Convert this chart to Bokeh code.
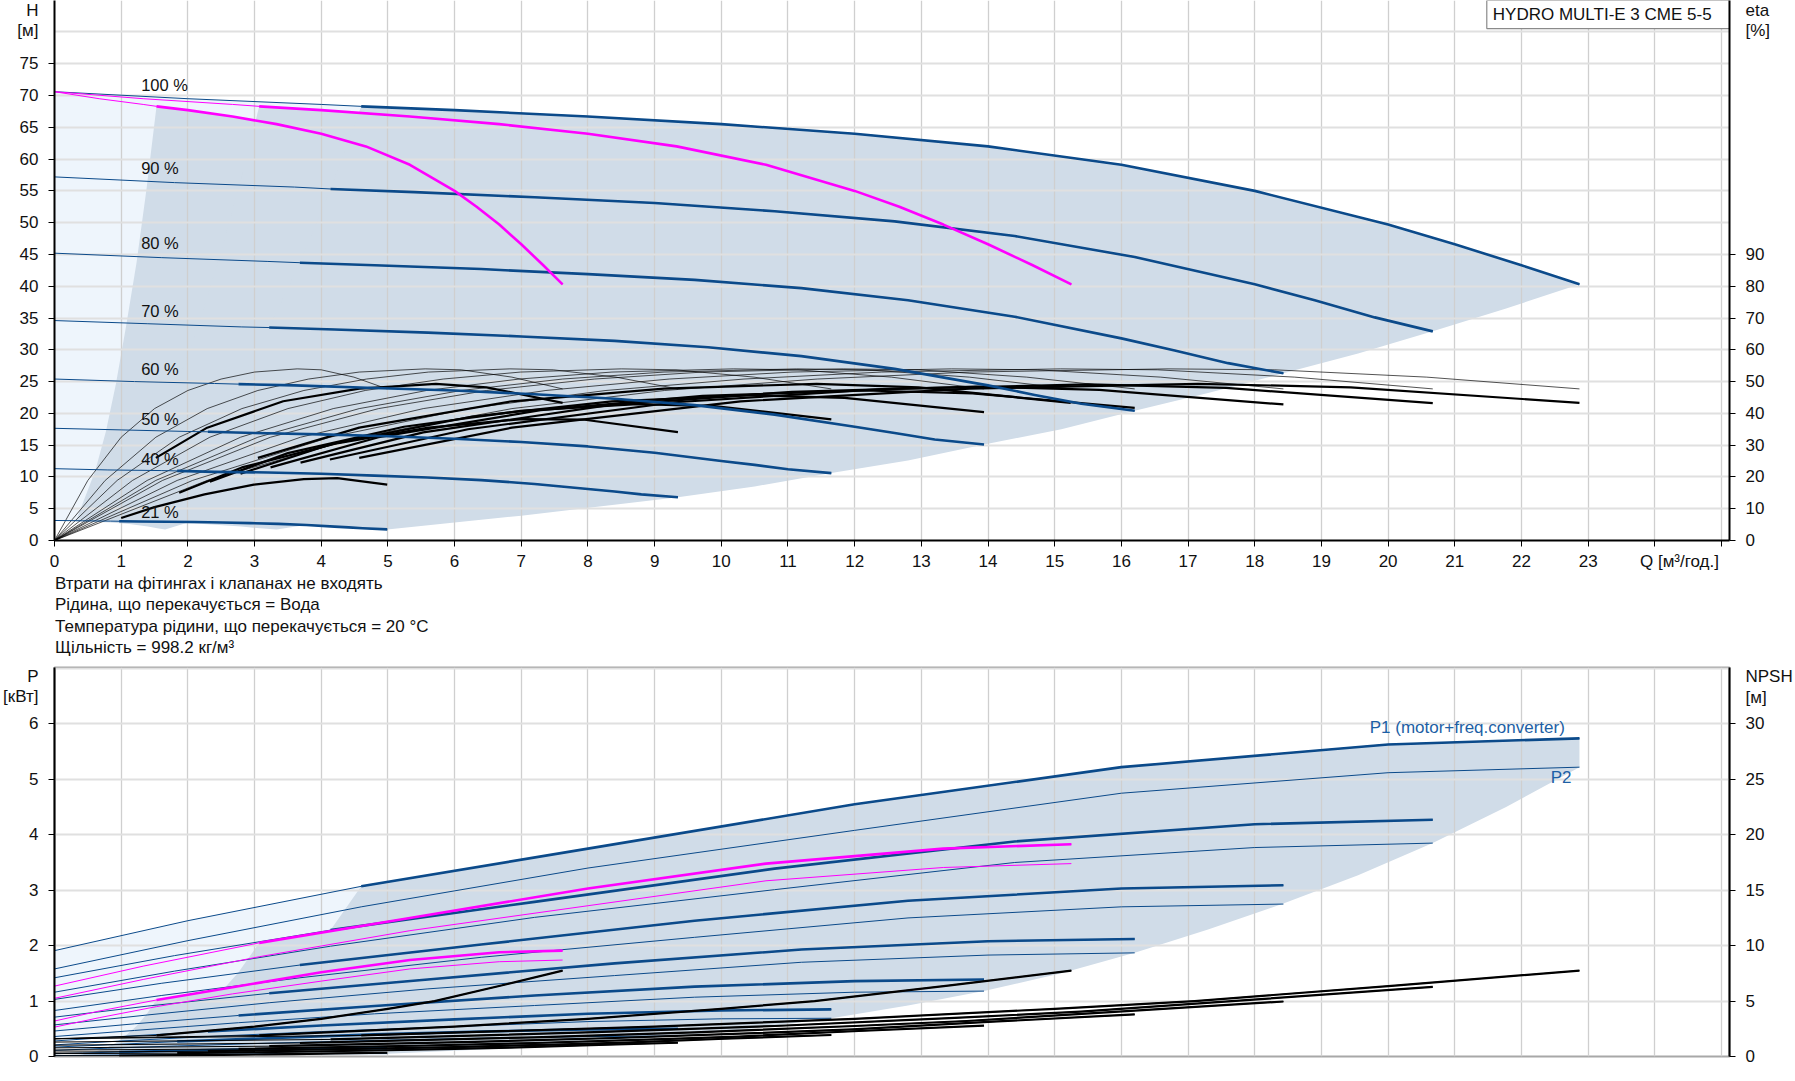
from bokeh.plotting import figure
from bokeh.models import Range1d, LinearAxis, FixedTicker, Label, Div, BasicTickFormatter
from bokeh.layouts import column
from bokeh.embed import file_html
from bokeh.resources import INLINE

FONT = "Liberation Sans"
BLUE = "#0b4a8a"
MAGENTA = "#ff00ff"
DARK_FILL = "#d0dce8"
LIGHT_FILL = "#eef5fc"
TXT_BLUE = "#1d5fa5"

# ================= DATA =================
SPEED_LABELS = ["100 %", "90 %", "80 %", "70 %", "60 %", "50 %", "40 %", "21 %"]
SPEED_LABEL_Y = [71.65, 58.55, 46.75, 36.15, 26.95, 19.15, 12.75, 4.55]

# --- Head curves, 3 pumps, per speed (Q m3/h, H m); edge = start of thick part
Q_H100 = [0, 2, 4, 4.6, 6, 8, 10, 12, 14, 16, 18, 20, 21, 22, 22.87]
H_100 = [70.6, 69.5, 68.6, 68.3, 67.7, 66.7, 65.5, 64.0, 62.0, 59.1, 55.0, 49.7, 46.6, 43.3, 40.3]
Q_H90 = [0, 1.8, 3.6, 4.14, 5.4, 7.2, 9, 10.8, 12.6, 14.4, 16.2, 18, 18.9, 19.8, 20.67]
H_90 = [57.2, 56.3, 55.6, 55.3, 54.8, 54.0, 53.1, 51.8, 50.2, 47.9, 44.6, 40.3, 37.8, 35.1, 32.9]
Q_H80 = [0, 1.6, 3.2, 3.68, 4.8, 6.4, 8, 9.6, 11.2, 12.8, 14.4, 16, 16.8, 17.6, 18.43]
H_80 = [45.2, 44.5, 43.9, 43.7, 43.3, 42.7, 41.9, 41.0, 39.7, 37.8, 35.2, 31.8, 29.9, 27.9, 26.3]
Q_H70 = [0, 1.4, 2.8, 3.22, 4.2, 5.6, 7, 8.4, 9.8, 11.2, 12.6, 14, 14.7, 15.4, 16.2]
H_70 = [34.6, 34.1, 33.6, 33.5, 33.2, 32.7, 32.1, 31.4, 30.4, 29.0, 27.0, 24.4, 22.9, 21.5, 20.4]
Q_H60 = [0, 1.2, 2.4, 2.76, 3.6, 4.8, 6, 7.2, 8.4, 9.6, 10.8, 12, 12.6, 13.2, 13.94]
H_60 = [25.4, 25.0, 24.7, 24.6, 24.4, 24.0, 23.6, 23.0, 22.3, 21.3, 19.8, 17.9, 16.9, 15.9, 15.1]
Q_H50 = [0, 1, 2, 2.3, 3, 4, 5, 6, 7, 8, 9, 10, 10.5, 11, 11.65]
H_50 = [17.65, 17.4, 17.15, 17.1, 16.9, 16.7, 16.4, 16.0, 15.5, 14.8, 13.8, 12.5, 11.9, 11.2, 10.6]
Q_H40 = [0, 0.8, 1.6, 1.84, 2.4, 3.2, 4, 4.8, 5.6, 6.4, 7.2, 8, 8.4, 8.8, 9.35]
H_40 = [11.3, 11.1, 11.0, 10.95, 10.8, 10.7, 10.5, 10.2, 9.9, 9.5, 8.9, 8.1, 7.7, 7.25, 6.8]
Q_H21 = [0, 0.42, 0.84, 0.97, 1.26, 1.68, 2.1, 2.52, 2.94, 3.36, 3.78, 4.2, 4.41, 4.62, 4.99]
H_21 = [3.15, 3.1, 3.05, 3.03, 3.0, 2.95, 2.9, 2.82, 2.73, 2.61, 2.43, 2.19, 2.06, 1.92, 1.75]
EDGE = [4.6, 4.14, 3.68, 3.22, 2.76, 2.3, 1.84, 0.97]

# --- Head curves, 1 and 2 pumps at 100 % (magenta)
Q_M1 = [0, 0.67, 1.33, 1.53, 2, 2.67, 3.33, 4, 4.67, 5.33, 6, 6.33, 6.67, 7, 7.33, 7.62]
H_M1 = [70.6, 69.5, 68.6, 68.3, 67.7, 66.7, 65.5, 64.0, 62.0, 59.1, 55.0, 52.5, 49.7, 46.6, 43.3, 40.3]
Q_M2 = [0, 1.33, 2.67, 3.07, 4, 5.33, 6.67, 8, 9.33, 10.67, 12, 12.67, 13.33, 14, 14.67, 15.25]
H_M2 = [70.6, 69.5, 68.6, 68.3, 67.7, 66.7, 65.5, 64.0, 62.0, 59.1, 55.0, 52.5, 49.7, 46.6, 43.3, 40.3]
EDGE_M = [1.53, 3.07]

# --- Pump efficiency (thin), eta %
ETA_PUMP = [0, 18.9, 32.5, 41.5, 47.2, 50.8, 53.0, 54.0, 53.7, 51.4, 47.7]
QE_100 = [0, 2.29, 4.57, 6.86, 9.15, 11.44, 13.72, 16.7, 18.3, 20.58, 22.87]
QE_90 = [0, 2.07, 4.13, 6.2, 8.27, 10.34, 12.4, 15.09, 16.54, 18.6, 20.67]
QE_80 = [0, 1.84, 3.69, 5.53, 7.37, 9.22, 11.06, 13.45, 14.74, 16.59, 18.43]
QE_70 = [0, 1.62, 3.24, 4.86, 6.48, 8.1, 9.72, 11.83, 12.96, 14.58, 16.2]
QE_60 = [0, 1.39, 2.79, 4.18, 5.58, 6.97, 8.36, 10.18, 11.15, 12.55, 13.94]
QE_50 = [0, 1.17, 2.33, 3.5, 4.66, 5.83, 6.99, 8.5, 9.32, 10.49, 11.65]
QE_40 = [0, 0.94, 1.87, 2.81, 3.74, 4.68, 5.61, 6.83, 7.48, 8.42, 9.35]
QE_21 = [0, 0.5, 1.0, 1.5, 2.0, 2.5, 3.0, 3.64, 4.0, 4.49, 4.99]
QE_1P = [0, 0.76, 1.52, 2.29, 3.05, 3.81, 4.57, 5.56, 6.1, 6.86, 7.62]
QE_2P = [0, 1.52, 3.05, 4.57, 6.1, 7.62, 9.14, 11.13, 12.19, 13.72, 15.24]

# --- Total efficiency (thick), eta %
QT_100 = [4.57, 6.86, 10.29, 13.72, 17.15, 19.44, 22.87]
ET_100 = [26.0, 35.5, 43.8, 47.8, 49.3, 48.2, 43.3]
QT_90 = [4.13, 6.2, 9.3, 12.4, 15.5, 17.57, 20.67]
ET_90 = [25.5, 35.0, 43.5, 47.6, 49.1, 48.0, 43.2]
QT_80 = [3.69, 5.53, 8.29, 11.06, 13.82, 15.67, 18.43]
ET_80 = [24.5, 34.0, 42.5, 46.8, 48.4, 47.4, 42.8]
QT_70 = [3.24, 4.86, 7.29, 9.72, 12.15, 13.77, 16.2]
ET_70 = [23.0, 32.5, 41.0, 45.5, 47.2, 46.3, 41.7]
QT_60 = [2.79, 4.18, 6.27, 8.36, 10.46, 11.85, 13.94]
ET_60 = [21.0, 30.5, 39.0, 43.8, 45.7, 44.9, 40.4]
QT_50 = [2.33, 3.5, 5.24, 6.99, 8.74, 9.9, 11.65]
ET_50 = [18.5, 27.5, 35.8, 40.8, 42.9, 42.3, 38.1]
QT_40 = [1.87, 2.81, 4.21, 5.61, 7.01, 7.95, 9.35]
ET_40 = [15.0, 23.0, 30.5, 35.5, 38.2, 38.0, 34.1]
QT_21 = [1.0, 1.5, 2.25, 2.99, 3.74, 4.24, 4.99]
ET_21 = [7.1, 10.5, 14.5, 17.6, 19.3, 19.6, 17.6]
QT_1P = [1.52, 2.29, 3.43, 4.57, 5.72, 6.48, 7.62]
ET_1P = [26.0, 35.5, 43.8, 47.8, 49.3, 48.2, 43.3]
QT_2P = [3.05, 4.57, 6.86, 9.14, 11.43, 12.96, 15.24]
ET_2P = [26.0, 35.5, 43.8, 47.8, 49.3, 48.2, 43.3]

# --- Operating areas in the H chart (outline points)
AREA3_Q = [4.6, 6, 8, 10, 12, 14, 16, 18, 20, 21, 22, 22.87, 21.77, 20.67, 19.55, 18.43, 17.3, 16.2, 15.1,
           13.94, 12.8, 11.65, 10.5, 9.35, 7.0, 4.99, 4.62, 4.2, 3.36, 2.52, 1.68, 0.97, 1.84, 2.3, 2.76, 3.22, 3.68, 4.14]
AREA3_H = [68.3, 67.7, 66.7, 65.5, 64.0, 62.0, 59.1, 55.0, 49.7, 46.6, 43.3, 40.3, 36.5, 32.9, 29.4, 26.3, 23.2, 20.4, 17.5,
           15.1, 12.6, 10.6, 8.5, 6.8, 3.9, 1.75, 1.92, 2.19, 2.61, 2.82, 2.94, 3.03, 10.95, 17.1, 24.6, 33.5, 43.7, 55.3]
AREA2_Q = [3.07, 4, 5.33, 6.67, 8, 9.33, 10.67, 12, 12.67, 13.33, 14, 14.67, 15.25, 14.52, 13.79, 13.04, 12.29, 11.53, 10.8,
           10.07, 9.29, 8.53, 7.77, 7.0, 6.23, 4.67, 3.33, 3.08, 2.8, 2.24, 1.68, 1.12, 0.65, 1.23, 1.53, 1.84, 2.15, 2.45, 2.76]
AREA2_H = [68.3, 67.7, 66.7, 65.5, 64.0, 62.0, 59.1, 55.0, 52.5, 49.7, 46.6, 43.3, 40.3, 36.5, 32.9, 29.4, 26.3, 23.2, 20.4,
           17.5, 15.1, 12.6, 10.6, 8.5, 6.8, 3.9, 1.75, 1.92, 2.19, 2.61, 2.82, 2.94, 3.03, 10.95, 17.1, 24.6, 33.5, 43.7, 55.3]
AREA1_Q = [1.53, 2, 2.67, 3.33, 4, 4.67, 5.33, 6, 6.33, 6.67, 7, 7.33, 7.62, 7.26, 6.89, 6.52, 6.14, 5.77, 5.4,
           5.03, 4.65, 4.27, 3.88, 3.5, 3.12, 2.33, 1.66, 1.54, 1.4, 1.12, 0.84, 0.56, 0.32, 0.61, 0.77, 0.92, 1.07, 1.23, 1.38]
AREA1_H = AREA2_H
LIGHT_Q = [0, 2, 4, 4.6, 4.6, 4.2, 3.36, 2.52, 1.68, 0.84, 0]
LIGHT_H = [70.6, 69.5, 68.6, 68.3, 1.92, 2.19, 2.61, 2.82, 2.94, 3.05, 3.15]

# --- Power curves, 3 pumps (Q, P1 thick from edge, P2 thin), kW
QP_100 = [0, 2, 4.6, 8, 12, 16, 20, 22.87]
P1_100 = [1.91, 2.45, 3.07, 3.75, 4.55, 5.22, 5.63, 5.74]
P2_100 = [1.58, 2.09, 2.70, 3.40, 4.08, 4.75, 5.12, 5.22]
QP_90 = [0, 1.8, 4.14, 7.2, 10.8, 14.4, 18, 20.67]
P1_90 = [1.42, 1.82, 2.28, 2.79, 3.39, 3.88, 4.19, 4.27]
P2_90 = [1.16, 1.54, 1.99, 2.51, 3.01, 3.50, 3.77, 3.85]
QP_80 = [0, 1.6, 3.68, 6.4, 9.6, 12.8, 16, 18.43]
P1_80 = [1.03, 1.32, 1.65, 2.02, 2.45, 2.81, 3.03, 3.09]
P2_80 = [0.83, 1.10, 1.42, 1.79, 2.15, 2.50, 2.70, 2.75]
QP_70 = [0, 1.4, 3.22, 5.6, 8.4, 11.2, 14, 16.2]
P1_70 = [0.71, 0.91, 1.14, 1.39, 1.68, 1.93, 2.08, 2.12]
P2_70 = [0.57, 0.75, 0.97, 1.22, 1.46, 1.70, 1.83, 1.87]
QP_60 = [0, 1.2, 2.76, 4.8, 7.2, 9.6, 12, 13.94]
P1_60 = [0.46, 0.59, 0.74, 0.91, 1.10, 1.26, 1.36, 1.39]
P2_60 = [0.36, 0.47, 0.61, 0.77, 0.92, 1.07, 1.16, 1.18]
QP_50 = [0, 1, 2.3, 4, 6, 8, 10, 11.65]
P1_50 = [0.28, 0.36, 0.45, 0.56, 0.67, 0.77, 0.83, 0.85]
P2_50 = [0.21, 0.28, 0.36, 0.45, 0.54, 0.63, 0.68, 0.69]
QP_40 = [0, 0.8, 1.84, 3.2, 4.8, 6.4, 8, 9.35]
P1_40 = [0.17, 0.21, 0.27, 0.33, 0.40, 0.45, 0.49, 0.50]
P2_40 = [0.11, 0.15, 0.19, 0.24, 0.29, 0.33, 0.36, 0.37]
QP_21 = [0, 0.42, 0.97, 1.68, 2.52, 3.36, 4.2, 4.99]
P1_21 = [0.05, 0.064, 0.08, 0.10, 0.12, 0.136, 0.146, 0.15]
P2_21 = [0.016, 0.021, 0.027, 0.034, 0.041, 0.048, 0.051, 0.052]

# --- Power curves, 1 and 2 pumps at 100 % (magenta)
QP_1P = [0, 0.67, 1.53, 2.67, 4, 5.33, 6.67, 7.62]
P1_1P = [0.64, 0.82, 1.02, 1.25, 1.52, 1.74, 1.88, 1.91]
P2_1P = [0.53, 0.70, 0.90, 1.13, 1.36, 1.58, 1.71, 1.74]
QP_2P = [0, 1.33, 3.07, 5.33, 8, 10.67, 13.33, 15.25]
P1_2P = [1.27, 1.63, 2.05, 2.50, 3.03, 3.48, 3.75, 3.83]
P2_2P = [1.05, 1.39, 1.80, 2.27, 2.72, 3.17, 3.41, 3.48]

# --- NPSH curves (m)
QN_100 = [0, 4.6, 9, 12, 15, 17.1, 20.1, 22.87]
N_100 = [1.6, 1.9, 2.7, 3.4, 4.3, 5.0, 6.4, 7.75]
QN_90 = [0, 4.14, 8.1, 10.8, 13.5, 15.39, 18.09, 20.67]
N_90 = [1.3, 1.54, 2.19, 2.75, 3.48, 4.05, 5.18, 6.28]
QN_80 = [0, 3.68, 7.2, 9.6, 12, 13.68, 16.08, 18.43]
N_80 = [1.02, 1.22, 1.73, 2.18, 2.75, 3.2, 4.1, 4.96]
QN_70 = [0, 3.22, 6.3, 8.4, 10.5, 11.97, 14.07, 16.2]
N_70 = [0.78, 0.93, 1.32, 1.67, 2.11, 2.45, 3.14, 3.8]
QN_60 = [0, 2.76, 5.4, 7.2, 9, 10.26, 12.06, 13.94]
N_60 = [0.58, 0.68, 0.97, 1.22, 1.55, 1.8, 2.3, 2.79]
QN_50 = [0, 2.3, 4.5, 6, 7.5, 8.55, 10.05, 11.65]
N_50 = [0.4, 0.48, 0.68, 0.85, 1.08, 1.25, 1.6, 1.94]
QN_40 = [0, 1.84, 3.6, 4.8, 6, 6.84, 8.04, 9.35]
N_40 = [0.26, 0.3, 0.43, 0.54, 0.69, 0.8, 1.02, 1.24]
QN_21 = [0, 0.97, 1.89, 2.52, 3.15, 3.59, 4.22, 4.99]
N_21 = [0.07, 0.08, 0.12, 0.15, 0.19, 0.22, 0.28, 0.34]
QN_1P = [0, 1.53, 3, 4, 5, 5.7, 6.7, 7.62]
N_1P = [1.6, 1.9, 2.7, 3.4, 4.3, 5.0, 6.4, 7.75]
QN_2P = [0, 3.07, 6, 8, 10, 11.4, 13.4, 15.25]
N_2P = [1.6, 1.9, 2.7, 3.4, 4.3, 5.0, 6.4, 7.75]

# --- Operating areas in the P chart
PAREA3_Q = [4.6, 8, 12, 16, 20, 22.87, 22.87, 21.77, 20.67, 19.55, 18.43, 17.3, 16.2, 15.1, 13.94, 12.8, 11.65,
            10.5, 9.35, 7.0, 4.99, 0.97, 1.84, 2.3, 2.76, 3.22, 3.68, 4.14]
PAREA3_P = [3.07, 3.75, 4.55, 5.22, 5.63, 5.74, 5.22, 4.5, 3.85, 3.27, 2.76, 2.29, 1.87, 1.5, 1.18, 0.92, 0.69,
            0.51, 0.37, 0.16, 0.05, 0.02, 0.27, 0.45, 0.74, 1.14, 1.65, 2.28]
PAREA2_Q = [3.07, 5.33, 8, 10.67, 13.33, 15.25, 15.25, 14.51, 13.78, 13.03, 12.29, 11.53, 10.8, 10.07, 9.29, 8.53, 7.77,
            7.0, 6.23, 4.67, 3.33, 0.65, 1.23, 1.53, 1.84, 2.15, 2.45, 2.76]
PAREA2_P = [2.05, 2.50, 3.03, 3.48, 3.75, 3.83, 3.48, 3.0, 2.57, 2.18, 1.84, 1.53, 1.25, 1.0, 0.79, 0.61, 0.46,
            0.34, 0.25, 0.11, 0.033, 0.013, 0.18, 0.3, 0.49, 0.76, 1.1, 1.52]
PAREA1_Q = [1.53, 2.67, 4, 5.33, 6.67, 7.62, 7.62, 7.26, 6.89, 6.52, 6.14, 5.77, 5.4, 5.03, 4.65, 4.27, 3.88,
            3.5, 3.12, 2.33, 1.66, 0.32, 0.61, 0.77, 0.92, 1.07, 1.23, 1.38]
PAREA1_P = [1.02, 1.25, 1.52, 1.74, 1.88, 1.91, 1.74, 1.5, 1.28, 1.09, 0.92, 0.76, 0.62, 0.5, 0.39, 0.31, 0.23,
            0.17, 0.12, 0.05, 0.017, 0.007, 0.09, 0.15, 0.25, 0.38, 0.55, 0.76]
PLIGHT_Q = [0, 2, 4.6, 4.6, 1.2, 0]
PLIGHT_P = [1.91, 2.45, 3.07, 0.3, 0.36, 0.34]

NOTES = ["Втрати на фітингах і клапанах не входять",
         "Рідина, що перекачується = Вода",
         "Температура рідини, що перекачується = 20 °C",
         "Щільність = 998.2 кг/м³"]

# --- axes: tick marks, labelled positions and their texts (captions sit on the axes)
X_MARKS = list(range(0, 26))
X_LABEL_POS = list(range(0, 24)) + [24.37]
X_LABEL_TXT = [str(i) for i in range(0, 24)] + ["Q [м³/год.]"]
H_MARKS = list(range(0, 80, 5))
H_LABEL_POS = list(range(0, 80, 5)) + [83.37, 80.23]
H_LABEL_TXT = [str(i) for i in range(0, 80, 5)] + ["H", "[м]"]
H_GRID = list(range(0, 85, 5))
ETA_MARKS = list(range(0, 100, 10))
ETA_LABEL_POS = list(range(0, 100, 10)) + [166.7, 160.5]
ETA_LABEL_TXT = [str(i) for i in range(0, 100, 10)] + ["eta", "[%]"]
P_MARKS = list(range(0, 7))
P_LABEL_POS = list(range(0, 7)) + [6.855, 6.486]
P_LABEL_TXT = [str(i) for i in range(0, 7)] + ["P", "[кВт]"]
P_GRID = list(range(0, 8))
NPSH_MARKS = list(range(0, 35, 5))
NPSH_LABEL_POS = list(range(0, 35, 5)) + [34.25, 32.4]
NPSH_LABEL_TXT = [str(i) for i in range(0, 35, 5)] + ["NPSH", "[м]"]


# ================= helpers =================
def style_axis(ax, marks, pos, txt, standoff):
    ax.ticker = FixedTicker(ticks=pos, minor_ticks=marks)
    ax.formatter = BasicTickFormatter(precision=0)
    ax.major_label_overrides = dict(zip(pos, txt))
    ax.axis_line_color = "black"
    ax.axis_line_width = 2
    ax.major_tick_line_color = None
    ax.major_tick_out = 0
    ax.major_tick_in = 0
    ax.minor_tick_line_color = "black"
    ax.minor_tick_line_width = 1
    ax.minor_tick_out = 6
    ax.minor_tick_in = 0
    ax.major_label_text_font = FONT
    ax.major_label_text_font_size = "17px"
    ax.major_label_text_color = "#111111"
    ax.major_label_standoff = standoff


def style_grid(p, xt, yt):
    p.xgrid.ticker = FixedTicker(ticks=xt)
    p.ygrid.ticker = FixedTicker(ticks=yt)
    p.xgrid.grid_line_color = "#cfcfcf"
    p.xgrid.grid_line_width = 1.3
    p.ygrid.grid_line_color = "#e0e0e0"
    p.ygrid.grid_line_width = 2


def thin_thick(p, q, y, edge, color, wthin, wthick, **kw):
    p.line(q, y, line_color=color, line_width=wthin, **kw)
    qq = [a for a in q if a >= edge - 1e-9]
    yy = [b for a, b in zip(q, y) if a >= edge - 1e-9]
    p.line(qq, yy, line_color=color, line_width=wthick, line_join="round", **kw)


def lab(p, x, y, text, align="center", baseline="middle", color="#111111", size="17px"):
    p.add_layout(Label(x=x, y=y, text=text, text_align=align, text_baseline=baseline,
                       text_font=FONT, text_font_size=size, text_color=color))


# ================= TOP CHART (H / eta) =================
X_END = 25.12
H_END = 84.95
p1 = figure(width=1795, height=573, x_range=Range1d(0, X_END), y_range=Range1d(0, H_END),
            output_backend="svg", toolbar_location=None,
            min_border_left=53, min_border_right=65, min_border_top=0, min_border_bottom=33)
p1.outline_line_color = None
p1.background_fill_color = "white"
p1.border_fill_color = "white"
p1.extra_y_ranges = {"eta": Range1d(0, 2 * H_END)}

style_axis(p1.xaxis[0], X_MARKS, X_LABEL_POS, X_LABEL_TXT, 5)
style_axis(p1.yaxis[0], H_MARKS, H_LABEL_POS, H_LABEL_TXT, 10)
eta_axis = LinearAxis(y_range_name="eta")
style_axis(eta_axis, ETA_MARKS, ETA_LABEL_POS, ETA_LABEL_TXT, 10)
p1.add_layout(eta_axis, "right")
style_grid(p1, X_MARKS, H_GRID)

# shaded operating areas (below the grid)
p1.patch(LIGHT_Q, LIGHT_H, fill_color=LIGHT_FILL, line_color=None, level="image")
for aq, ah in [(AREA1_Q, AREA1_H), (AREA2_Q, AREA2_H), (AREA3_Q, AREA3_H)]:
    p1.patch(aq, ah, fill_color=DARK_FILL, line_color=None, level="image")

# efficiency curves
for qe in [QE_100, QE_90, QE_80, QE_70, QE_60, QE_50, QE_40, QE_21, QE_1P, QE_2P]:
    p1.line(qe, ETA_PUMP, y_range_name="eta", line_color="black", line_width=0.8, line_alpha=0.85)
for qt, et in [(QT_100, ET_100), (QT_90, ET_90), (QT_80, ET_80), (QT_70, ET_70), (QT_60, ET_60),
               (QT_50, ET_50), (QT_40, ET_40), (QT_21, ET_21), (QT_1P, ET_1P), (QT_2P, ET_2P)]:
    p1.line(qt, et, y_range_name="eta", line_color="black", line_width=2.2, line_join="round")

# head curves
HEAD = [(Q_H100, H_100), (Q_H90, H_90), (Q_H80, H_80), (Q_H70, H_70),
        (Q_H60, H_60), (Q_H50, H_50), (Q_H40, H_40), (Q_H21, H_21)]
for (q, h), e in zip(HEAD, EDGE):
    thin_thick(p1, q, h, e, BLUE, 1.0, 2.6)
for (q, h), e in zip([(Q_M1, H_M1), (Q_M2, H_M2)], EDGE_M):
    thin_thick(p1, q, h, e, MAGENTA, 1.0, 2.6)

for t, yv in zip(SPEED_LABELS, SPEED_LABEL_Y):
    lab(p1, 1.3, yv, t, align="left", baseline="alphabetic", size="16.5px")

# title box
p1.quad(left=[21.48], right=[X_END], top=[H_END], bottom=[80.54], fill_color="white",
        line_color="#8a8a8a", line_width=1.2)
lab(p1, 21.57, 82.75, "HYDRO MULTI-E 3 CME 5-5", align="left")

# ================= NOTES =================
notes_html = "<br>".join(NOTES)
div = Div(text=f'<div style="font-family:\'{FONT}\';font-size:17px;line-height:21.33px;'
               f'padding-left:55px;color:#111111;white-space:nowrap">{notes_html}</div>',
          width=1795, height=86, margin=(0, 0, 0, 0))

# ================= BOTTOM CHART (P / NPSH) =================
P_END = 7.018
p2 = figure(width=1795, height=412, x_range=Range1d(0, X_END), y_range=Range1d(0, P_END),
            output_backend="svg", toolbar_location=None,
            min_border_left=53, min_border_right=65, min_border_top=8, min_border_bottom=15)
p2.outline_line_color = "#a8a8a8"
p2.outline_line_width = 2
p2.background_fill_color = "white"
p2.border_fill_color = "white"
p2.extra_y_ranges = {"npsh": Range1d(0, 5 * P_END)}
p2.xaxis.visible = False
style_axis(p2.yaxis[0], P_MARKS, P_LABEL_POS, P_LABEL_TXT, 10)
npsh_axis = LinearAxis(y_range_name="npsh")
style_axis(npsh_axis, NPSH_MARKS, NPSH_LABEL_POS, NPSH_LABEL_TXT, 10)
p2.add_layout(npsh_axis, "right")
style_grid(p2, X_MARKS, P_GRID)

p2.patch(PLIGHT_Q, PLIGHT_P, fill_color=LIGHT_FILL, line_color=None, level="image")
for aq, ap in [(PAREA1_Q, PAREA1_P), (PAREA2_Q, PAREA2_P), (PAREA3_Q, PAREA3_P)]:
    p2.patch(aq, ap, fill_color=DARK_FILL, line_color=None, level="image")

POWER = [(QP_100, P1_100, P2_100), (QP_90, P1_90, P2_90), (QP_80, P1_80, P2_80), (QP_70, P1_70, P2_70),
         (QP_60, P1_60, P2_60), (QP_50, P1_50, P2_50), (QP_40, P1_40, P2_40), (QP_21, P1_21, P2_21)]
for (q, pa, pb), e in zip(POWER, EDGE):
    p2.line(q, pb, line_color=BLUE, line_width=1.0)
    thin_thick(p2, q, pa, e, BLUE, 1.0, 2.6)

NPSH = [(QN_100, N_100), (QN_90, N_90), (QN_80, N_80), (QN_70, N_70),
        (QN_60, N_60), (QN_50, N_50), (QN_40, N_40), (QN_21, N_21)]
for (q, n), e in zip(NPSH, EDGE):
    thin_thick(p2, q, n, e, "black", 1.0, 2.2, y_range_name="npsh")
for (q, n), e in zip([(QN_1P, N_1P), (QN_2P, N_2P)], EDGE_M):
    thin_thick(p2, q, n, e, "black", 1.0, 2.2, y_range_name="npsh")

for (q, pa, pb), e in zip([(QP_1P, P1_1P, P2_1P), (QP_2P, P1_2P, P2_2P)], EDGE_M):
    p2.line(q, pb, line_color=MAGENTA, line_width=1.0)
    thin_thick(p2, q, pa, e, MAGENTA, 1.0, 2.6)

lab(p2, 22.65, 5.94, "P1 (motor+freq.converter)", align="right", color=TXT_BLUE)
lab(p2, 22.75, 5.04, "P2", align="right", color=TXT_BLUE)

layout = column(p1, div, p2, margin=(0, 0, 0, 0), spacing=0)
open("out.html", "w").write(file_html(layout, INLINE))
